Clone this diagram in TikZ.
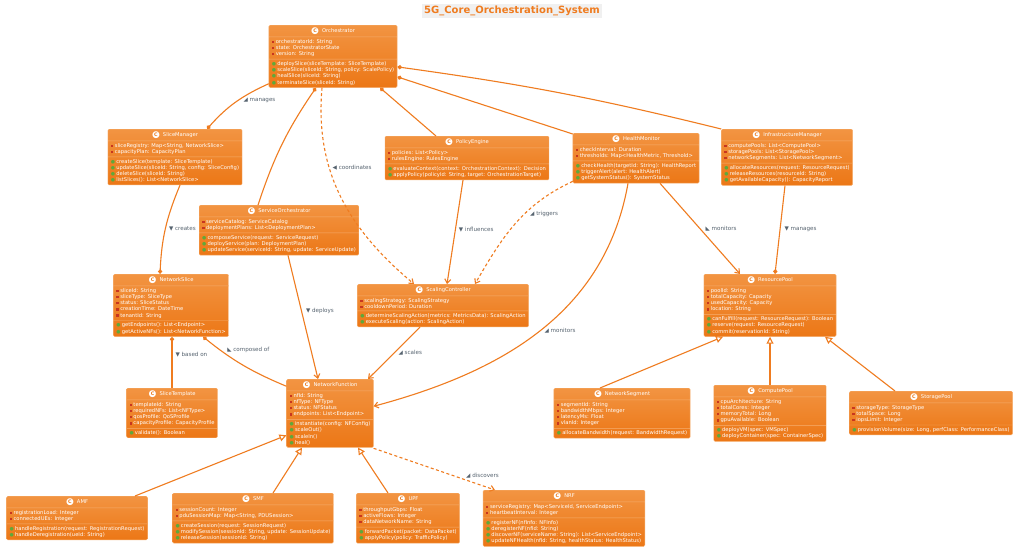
\documentclass[tikz,border=0pt]{standalone}
\usepackage{fontspec}
\setmainfont{DejaVu Sans}
\usetikzlibrary{shapes.multipart,arrows.meta}
\definecolor{clstop}{HTML}{F29442}
\definecolor{clsbot}{HTML}{EC7716}
\definecolor{clsline}{HTML}{F6AE6E}
\definecolor{edgeclr}{HTML}{EF7C20}
\definecolor{lblclr}{HTML}{56636F}
\definecolor{privred}{HTML}{C8361F}
\definecolor{pubgreen}{HTML}{5FA83A}
\newcommand{\cicon}{\hbox to 8pt{\hss\raisebox{-1.2pt}{\fontsize{9}{9}\selectfont\color{white}●}\hss}\kern-8pt\hbox to 8pt{\hss\fontsize{4.8}{5}\selectfont\bfseries\color{clsbot}C\hss}\hspace{3pt}}
\newcommand{\priv}{{\color{privred}\rule[0.3pt]{2.3pt}{2.3pt}}\hspace{1.6pt}}
\newcommand{\pub}{{\color{pubgreen}\fontsize{4.8}{5}\selectfont●}\hspace{1.2pt}}
\tikzset{
  cls/.style={rectangle split, rectangle split parts=3,
    rectangle split part align={center,left,left},
    draw=clsline, top color=clstop, bottom color=clsbot, rounded corners=1.2pt,
    text=white, font=\fontsize{5.2}{6.2}\selectfont\color{white}, inner xsep=3pt, inner ysep=2.2pt,
    anchor=north, align=left},
  conn/.style={draw=edgeclr, line width=1.1pt},
  dconn/.style={conn, dash pattern=on 3pt off 2.5pt},
  lbl/.style={text=lblclr, font=\fontsize{5.6}{6}\selectfont, inner sep=1pt},
  comp/.tip={Diamond[length=5pt,width=4.5pt]},
  barb/.tip={Straight Barb[length=4pt,width=6pt]},
  inh/.tip={Triangle[open,length=7pt,width=7pt,fill=white]}
}
\begin{document}
\begin{tikzpicture}[x=1pt,y=-1pt]
\useasboundingbox[fill=white] (0,0) rectangle (1024,557);
% title
\node[fill=black!6, text=edgeclr, font=\bfseries\fontsize{10}{11}\selectfont, inner sep=2pt] (title) at (512,11) {5G\_Core\_Orchestration\_System};

% classes, top row
\node[cls] (orch) at (333,25) {\cicon Orchestrator
  \nodepart{two}\priv orchestratorId: String\\\priv state: OrchestratorState\\\priv version: String
  \nodepart{three}\pub deploySlice(sliceTemplate: SliceTemplate)\\\pub scaleSlice(sliceId: String, policy: ScalePolicy)\\\pub healSlice(sliceId: String)\\\pub terminateSlice(sliceId: String)};
\node[cls] (sm) at (175,129) {\cicon SliceManager
  \nodepart{two}\priv sliceRegistry: Map<String, NetworkSlice>\\\priv capacityPlan: CapacityPlan
  \nodepart{three}\pub createSlice(template: SliceTemplate)\\\pub updateSlice(sliceId: String, config: SliceConfig)\\\pub deleteSlice(sliceId: String)\\\pub listSlices(): List<NetworkSlice>};
\node[cls] (pe) at (467,136) {\cicon PolicyEngine
  \nodepart{two}\priv policies: List<Policy>\\\priv rulesEngine: RulesEngine
  \nodepart{three}\pub evaluateContext(context: OrchestrationContext): Decision\\\pub applyPolicy(policyId: String, target: OrchestrationTarget)};
\node[cls] (hm) at (636,133) {\cicon HealthMonitor
  \nodepart{two}\priv checkInterval: Duration\\\priv thresholds: Map<HealthMetric, Threshold>
  \nodepart{three}\pub checkHealth(targetId: String): HealthReport\\\pub triggerAlert(alert: HealthAlert)\\\pub getSystemStatus(): SystemStatus};
\node[cls] (im) at (787,129) {\cicon InfrastructureManager
  \nodepart{two}\priv computePools: List<ComputePool>\\\priv storagePools: List<StoragePool>\\\priv networkSegments: List<NetworkSegment>
  \nodepart{three}\pub allocateResources(request: ResourceRequest)\\\pub releaseResources(resourceId: String)\\\pub getAvailableCapacity(): CapacityReport};

% middle row
\node[cls] (so) at (279,205) {\cicon ServiceOrchestrator
  \nodepart{two}\priv serviceCatalog: ServiceCatalog\\\priv deploymentPlans: List<DeploymentPlan>
  \nodepart{three}\pub composeService(request: ServiceRequest)\\\pub deployService(plan: DeploymentPlan)\\\pub updateService(serviceId: String, update: ServiceUpdate)};
\node[cls] (sc) at (443,284) {\cicon ScalingController
  \nodepart{two}\priv scalingStrategy: ScalingStrategy\\\priv cooldownPeriod: Duration
  \nodepart{three}\pub determineScalingAction(metrics: MetricsData): ScalingAction\\\pub executeScaling(action: ScalingAction)};
\node[cls] (ns) at (171,274) {\cicon NetworkSlice
  \nodepart{two}\priv sliceId: String\\\priv sliceType: SliceType\\\priv status: SliceStatus\\\priv creationTime: DateTime\\\priv tenantId: String
  \nodepart{three}\pub getEndpoints(): List<Endpoint>\\\pub getActiveNFs(): List<NetworkFunction>};
\node[cls] (rp) at (770,274) {\cicon ResourcePool
  \nodepart{two}\priv poolId: String\\\priv totalCapacity: Capacity\\\priv usedCapacity: Capacity\\\priv location: String
  \nodepart{three}\pub canFulfill(request: ResourceRequest): Boolean\\\pub reserve(request: ResourceRequest)\\\pub commit(reservationId: String)};
\node[cls] (st) at (172,388) {\cicon SliceTemplate
  \nodepart{two}\priv templateId: String\\\priv requiredNFs: List<NFType>\\\priv qosProfile: QoSProfile\\\priv capacityProfile: CapacityProfile
  \nodepart{three}\pub validate(): Boolean};
\node[cls] (nf) at (330,379) {\cicon NetworkFunction
  \nodepart{two}\priv nfId: String\\\priv nfType: NFType\\\priv status: NFStatus\\\priv endpoints: List<Endpoint>
  \nodepart{three}\pub instantiate(config: NFConfig)\\\pub scaleOut()\\\pub scaleIn()\\\pub heal()};
\node[cls] (nseg) at (622,388) {\cicon NetworkSegment
  \nodepart{two}\priv segmentId: String\\\priv bandwidthMbps: Integer\\\priv latencyMs: Float\\\priv vlanId: Integer
  \nodepart{three}\pub allocateBandwidth(request: BandwidthRequest)};
\node[cls] (cp) at (770,385) {\cicon ComputePool
  \nodepart{two}\priv cpuArchitecture: String\\\priv totalCores: Integer\\\priv memoryTotal: Long\\\priv gpuAvailable: Boolean
  \nodepart{three}\pub deployVM(spec: VMSpec)\\\pub deployContainer(spec: ContainerSpec)};
\node[cls] (stp) at (931,391) {\cicon StoragePool
  \nodepart{two}\priv storageType: StorageType\\\priv totalSpace: Long\\\priv iopsLimit: Integer
  \nodepart{three}\pub provisionVolume(size: Long, perfClass: PerformanceClass)};

% bottom row
\node[cls] (amf) at (77,496) {\cicon AMF
  \nodepart{two}\priv registrationLoad: Integer\\\priv connectedUEs: Integer
  \nodepart{three}\pub handleRegistration(request: RegistrationRequest)\\\pub handleDeregistration(ueId: String)};
\node[cls] (smf) at (253,493) {\cicon SMF
  \nodepart{two}\priv sessionCount: Integer\\\priv pduSessionMap: Map<String, PDUSession>
  \nodepart{three}\pub createSession(request: SessionRequest)\\\pub modifySession(sessionId: String, update: SessionUpdate)\\\pub releaseSession(sessionId: String)};
\node[cls] (upf) at (408,493) {\cicon UPF
  \nodepart{two}\priv throughputGbps: Float\\\priv activeFlows: Integer\\\priv dataNetworkName: String
  \nodepart{three}\pub forwardPacket(packet: DataPacket)\\\pub applyPolicy(policy: TrafficPolicy)};
\node[cls] (nrf) at (564,490) {\cicon NRF
  \nodepart{two}\priv serviceRegistry: Map<ServiceId, ServiceEndpoint>\\\priv heartbeatInterval: Integer
  \nodepart{three}\pub registerNF(nfInfo: NFInfo)\\\pub deregisterNF(nfId: String)\\\pub discoverNF(serviceName: String): List<ServiceEndpoint>\\\pub updateNFHealth(nfId: String, healthStatus: HealthStatus)};

% connectors from the orchestrator
\draw[conn, -comp] ([yshift=4]orch.south west) to[bend right=12] node[lbl, pos=.45, right=4pt] {◢ manages} ([xshift=32]sm.north);
\draw[conn, comp-] ([xshift=-17]orch.south) to[bend right=8] ([xshift=-21]so.north);
\draw[dconn, -barb] ([xshift=-11]orch.south) to[out=-95, in=140] node[lbl, pos=.35, right=2pt] {◀ coordinates} ([xshift=-29]sc.north);
\draw[conn, comp-] ([xshift=47]orch.south) -- ([xshift=-31]pe.north);
\draw[conn, comp-] ([yshift=-10.5]orch.east) to[bend left=3] (im.north west);
\draw[conn, comp-] ([yshift=-20.5]orch.east) -- ([yshift=-1]hm.north west);

% middle connectors
\draw[conn, -comp] ([xshift=5]sm.south) to[bend right=10] node[lbl, pos=.5, right=2pt] {▼ creates} ([xshift=-11]ns.north);
\draw[conn, -barb] ([xshift=-4]pe.south) -- node[lbl, pos=.48, right=2pt] {▼ influences} ([xshift=4]sc.north);
\draw[dconn, -barb] ([yshift=2]hm.south west) to[out=-155, in=60] node[lbl, pos=.4, right=4pt] {◢ triggers} ([xshift=32]sc.north);
\draw[conn, -barb] ([xshift=24]hm.south) -- node[lbl, pos=.5, right=4pt] {◣ monitors} ([xshift=-30]rp.north);
\draw[conn, -barb] ([xshift=-8]hm.south) to[out=-100, in=15] node[lbl, pos=.5, right=3pt] {◢ monitors} ([yshift=7]nf.east);
\draw[conn, -comp] ([xshift=-2]im.south) -- node[lbl, pos=.5, right=3pt] {▼ manages} ([xshift=5]rp.north);
\draw[conn, -barb] ([xshift=9]so.south) -- node[lbl, pos=.45, right=3pt] {▼ deploys} ([xshift=-12]nf.north);
\draw[conn, -barb] ([xshift=-23]sc.south) -- node[lbl, pos=.5, right=3pt] {◢ scales} ([xshift=38]nf.north);
\draw[conn, comp-] ([xshift=1]ns.south) -- node[lbl, pos=.35, right=2pt] {▼ based on} (st.north);
\draw[conn, comp-] ([xshift=32]ns.south) to[bend right=8] node[lbl, pos=.2, right=6pt] {◣ composed of} ([yshift=27]nf.west);
\draw[dconn, -barb] ([yshift=-35]nf.east) -- node[lbl, pos=.75, above right=0pt] {◢ discovers} ([xshift=-69]nrf.north);

% inheritance
\draw[conn, -inh] ([xshift=58]amf.north) -- ([yshift=-22]nf.west);
\draw[conn, -inh] ([xshift=20]smf.north) -- ([xshift=-28]nf.south);
\draw[conn, -inh] ([xshift=-20]upf.north) -- ([xshift=28]nf.south);
\draw[conn, -inh] ([xshift=-22]nseg.north) -- ([xshift=-47]rp.south);
\draw[conn, -inh] (cp.north) -- (rp.south);
\draw[conn, -inh] ([xshift=-36]stp.north) -- ([xshift=55]rp.south);
\end{tikzpicture}
\end{document}
